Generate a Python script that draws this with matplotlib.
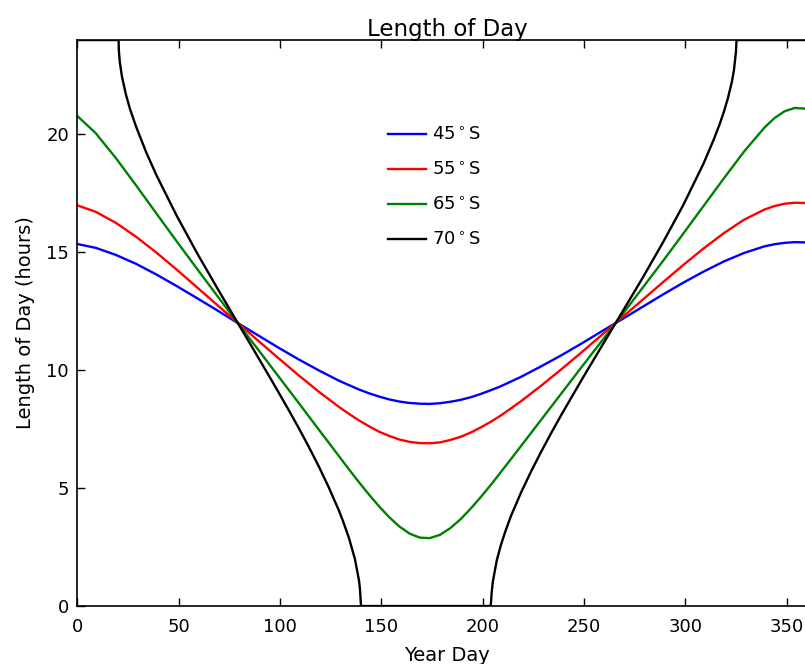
import matplotlib
matplotlib.use("Agg")
import matplotlib.pyplot as plt

plt.rcParams["font.family"] = ["DejaVu Sans"]
plt.rcParams["mathtext.fontset"] = "dejavusans"

# values
days = [-1, 9, 19, 29, 39, 49, 59, 69, 79, 89, 99, 109, 119,
        129, 134, 139, 144, 149, 154, 159, 164, 169, 174, 179, 184, 189, 194, 199,
        204, 209, 214, 219,
        229, 239, 249, 259, 269, 279, 289, 299, 309, 319, 329, 339,
        344, 349, 354, 359, 364]

lat45 = [15.37, 15.19, 14.89, 14.51, 14.06, 13.57, 13.06, 12.54, 12.01, 11.49, 10.97,
         10.47, 10.00,
         9.56, 9.37, 9.18, 9.02, 8.88, 8.76, 8.67, 8.61, 8.58, 8.57, 8.60, 8.66, 8.74,
         8.85, 8.99, 9.15, 9.32, 9.52, 9.72,
         10.17, 10.64, 11.14, 11.66, 12.17, 12.69, 13.21, 13.71, 14.18, 14.61, 14.97,
         15.25,
         15.34, 15.40, 15.43, 15.42, 15.38]

lat55 = [17.02, 16.72, 16.25, 15.66, 14.99, 14.27, 13.52, 12.77, 12.02, 11.27, 10.53,
         9.80, 9.10,
         8.45, 8.15, 7.87, 7.62, 7.39, 7.21, 7.06, 6.96, 6.91, 6.90, 6.94, 7.04, 7.17,
         7.35, 7.57, 7.81, 8.08, 8.38, 8.69,
         9.35, 10.05, 10.77, 11.51, 12.25, 12.99, 13.73, 14.46, 15.16, 15.81, 16.38,
         16.81,
         16.96, 17.06, 17.10, 17.09, 17.02]

lat65 = [20.86, 20.06, 19.00, 17.84, 16.65, 15.47, 14.31, 13.16, 12.02, 10.90, 9.77,
         8.64, 7.50,
         6.37, 5.80, 5.25, 4.72, 4.22, 3.76, 3.37, 3.07, 2.90, 2.88, 3.02, 3.30, 3.67,
         4.12, 4.61, 5.13, 5.68, 6.23, 6.79,
         7.91, 9.03, 10.15, 11.26, 12.37, 13.50, 14.63, 15.79, 16.96, 18.13, 19.27,
         20.28,
         20.69, 20.98, 21.12, 21.09, 20.88]

# 70S needs more points where it bends hard near 0 and 24 hours
days70 = [-1, 9, 19, 20.4, 20.5, 21, 22, 24, 26,
          29, 34, 39, 49, 59, 69, 79, 89, 99, 104, 109, 114, 119, 124, 129, 131,
          134, 137, 139, 139.5, 140,
          149, 159, 169, 179, 189, 199,
          204, 204.5, 205, 207, 209, 211, 214, 219, 224,
          229, 234, 239, 249, 259, 269, 279, 289, 299, 309, 314, 317, 319,
          321, 323, 324, 325, 325.3,
          329, 339, 349, 359, 364]

lat70 = [24, 24, 24, 24, 23.57, 23.06, 22.47, 21.69, 21.08,
         20.33, 19.24, 18.28, 16.56, 14.98, 13.49, 12.03, 10.58, 9.11, 8.36, 7.59,
         6.79, 5.95, 5.05, 4.07, 3.63,
         2.90, 1.99, 1.09, 0.71, 0,
         0, 0, 0, 0, 0, 0,
         0, 0.59, 1.01, 1.94, 2.58, 3.11, 3.82, 4.82, 5.72,
         6.56, 7.36, 8.13, 9.61, 11.05, 12.48, 13.92, 15.42, 17.00, 18.76, 19.77,
         20.44, 20.94,
         21.52, 22.23, 22.71, 23.49, 24,
         24, 24, 24, 24, 24]

labels = [r"45$^\circ$S", r"55$^\circ$S", r"65$^\circ$S", r"70$^\circ$S"]
colors = ["#0000ff", "#ff0000", "#008000", "#000000"]


def main():
    fig = plt.figure(figsize=(8.05, 6.64), dpi=100)
    # the reference is cropped on the right, so the axes run past the figure edge
    ax = fig.add_axes([0.0960, 0.0873, 0.9189, 0.8524])

    for d, v, lab, c in zip([days, days, days, days70],
                            [lat45, lat55, lat65, lat70], labels, colors):
        ax.plot(d, v, color=c, lw=1.7, label=lab)

    ax.set_xlim(0, 365)
    ax.set_ylim(0, 24)
    ax.set_xticks([0, 50, 100, 150, 200, 250, 300, 350])
    ax.set_yticks([0, 5, 10, 15, 20])
    ax.tick_params(direction="in", length=6, width=1, top=True, right=True,
                   labelsize=13)
    ax.tick_params(axis="x", pad=8.5)
    ax.tick_params(axis="y", pad=6)
    for s in ax.spines.values():
        s.set_linewidth(1.2)

    ax.set_title("Length of Day", fontsize=16.5, pad=3)
    ax.set_xlabel("Year Day", fontsize=14, labelpad=7)
    ax.set_ylabel("Length of Day (hours)", fontsize=14, labelpad=8)

    ax.legend(loc="upper left", bbox_to_anchor=(0.398, 0.877), frameon=False,
              fontsize=13, handlelength=2.1, handletextpad=0.35, labelspacing=0.95)

    fig.savefig("out.png", dpi=100)
    plt.close(fig)


if __name__ == "__main__":
    main()
